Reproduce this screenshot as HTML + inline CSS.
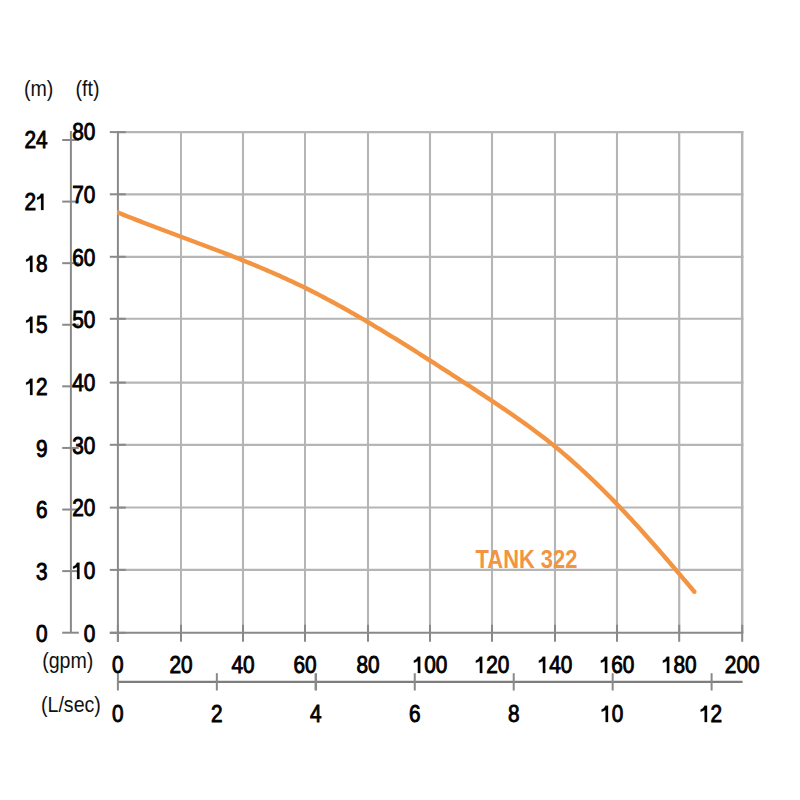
<!DOCTYPE html>
<html><head><meta charset="utf-8"><style>
html,body{margin:0;padding:0;background:#fff;width:800px;height:800px;overflow:hidden;}
svg.g{position:absolute;left:0;top:0;}
.n{position:absolute;font-family:'Liberation Sans',sans-serif;font-size:20.8px;line-height:21px;height:21px;color:#000;white-space:nowrap;-webkit-text-stroke:0.8px #000;}
.d1{display:inline-block;position:relative;width:0.556em;height:0.709em;}
.d1 svg{position:absolute;left:0;top:0;width:100%;height:100%;overflow:visible;}
.d1 path{fill:#000;stroke:#000;stroke-width:10px;}
.lab{position:absolute;font-family:'Liberation Sans',sans-serif;font-size:19.6px;line-height:1;color:#111;white-space:nowrap;transform-origin:0 0;transform:scaleY(1.08);}
.tank{position:absolute;font-family:'Liberation Sans',sans-serif;font-size:21.9px;font-weight:bold;line-height:1;color:#f39442;white-space:nowrap;transform-origin:0 0;transform:scaleY(1.167);}
</style></head><body>
<svg class="g" width="800" height="800" viewBox="0 0 800 800">
<line x1="181.00" y1="131.00" x2="181.00" y2="632.80" stroke="#b5b5b5" stroke-width="2.0"/>
<line x1="243.00" y1="131.00" x2="243.00" y2="632.80" stroke="#b5b5b5" stroke-width="2.1"/>
<line x1="305.00" y1="131.00" x2="305.00" y2="632.80" stroke="#b5b5b5" stroke-width="2.0"/>
<line x1="368.00" y1="131.00" x2="368.00" y2="632.80" stroke="#b5b5b5" stroke-width="2.1"/>
<line x1="430.00" y1="131.00" x2="430.00" y2="632.80" stroke="#b5b5b5" stroke-width="2.1"/>
<line x1="492.00" y1="131.00" x2="492.00" y2="632.80" stroke="#b5b5b5" stroke-width="2.1"/>
<line x1="555.00" y1="131.00" x2="555.00" y2="632.80" stroke="#b5b5b5" stroke-width="2.1"/>
<line x1="617.00" y1="131.00" x2="617.00" y2="632.80" stroke="#b5b5b5" stroke-width="2.1"/>
<line x1="679.20" y1="131.00" x2="679.20" y2="632.80" stroke="#b5b5b5" stroke-width="2.2"/>
<line x1="742.20" y1="131.00" x2="742.20" y2="632.80" stroke="#b5b5b5" stroke-width="2.5"/>
<line x1="117.90" y1="132.10" x2="743.40" y2="132.10" stroke="#b5b5b5" stroke-width="2.2"/>
<line x1="117.90" y1="194.30" x2="743.40" y2="194.30" stroke="#b5b5b5" stroke-width="2.2"/>
<line x1="117.90" y1="256.80" x2="743.40" y2="256.80" stroke="#b5b5b5" stroke-width="2.2"/>
<line x1="117.90" y1="318.80" x2="743.40" y2="318.80" stroke="#b5b5b5" stroke-width="2.1"/>
<line x1="117.90" y1="382.60" x2="743.40" y2="382.60" stroke="#b5b5b5" stroke-width="2.3"/>
<line x1="117.90" y1="444.80" x2="743.40" y2="444.80" stroke="#b5b5b5" stroke-width="2.2"/>
<line x1="117.90" y1="507.60" x2="743.40" y2="507.60" stroke="#b5b5b5" stroke-width="2.0"/>
<line x1="117.90" y1="569.90" x2="743.40" y2="569.90" stroke="#b5b5b5" stroke-width="2.1"/>
<line x1="109.8" y1="132.10" x2="125.8" y2="132.10" stroke="#898989" stroke-width="2.0"/>
<line x1="109.8" y1="194.30" x2="125.8" y2="194.30" stroke="#898989" stroke-width="2.0"/>
<line x1="109.8" y1="256.80" x2="125.8" y2="256.80" stroke="#898989" stroke-width="2.0"/>
<line x1="109.8" y1="318.80" x2="125.8" y2="318.80" stroke="#898989" stroke-width="2.0"/>
<line x1="109.8" y1="382.60" x2="125.8" y2="382.60" stroke="#898989" stroke-width="2.0"/>
<line x1="109.8" y1="444.80" x2="125.8" y2="444.80" stroke="#898989" stroke-width="2.0"/>
<line x1="109.8" y1="507.60" x2="125.8" y2="507.60" stroke="#898989" stroke-width="2.0"/>
<line x1="109.8" y1="569.90" x2="125.8" y2="569.90" stroke="#898989" stroke-width="2.0"/>
<line x1="109.8" y1="632.80" x2="125.8" y2="632.80" stroke="#898989" stroke-width="2.0"/>
<line x1="117.90" y1="624.8" x2="117.90" y2="641.8" stroke="#898989" stroke-width="2.0"/>
<line x1="181.00" y1="624.8" x2="181.00" y2="641.8" stroke="#898989" stroke-width="2.0"/>
<line x1="243.00" y1="624.8" x2="243.00" y2="641.8" stroke="#898989" stroke-width="2.0"/>
<line x1="305.00" y1="624.8" x2="305.00" y2="641.8" stroke="#898989" stroke-width="2.0"/>
<line x1="368.00" y1="624.8" x2="368.00" y2="641.8" stroke="#898989" stroke-width="2.0"/>
<line x1="430.00" y1="624.8" x2="430.00" y2="641.8" stroke="#898989" stroke-width="2.0"/>
<line x1="492.00" y1="624.8" x2="492.00" y2="641.8" stroke="#898989" stroke-width="2.0"/>
<line x1="555.00" y1="624.8" x2="555.00" y2="641.8" stroke="#898989" stroke-width="2.0"/>
<line x1="617.00" y1="624.8" x2="617.00" y2="641.8" stroke="#898989" stroke-width="2.0"/>
<line x1="679.20" y1="624.8" x2="679.20" y2="641.8" stroke="#898989" stroke-width="2.0"/>
<line x1="742.20" y1="624.8" x2="742.20" y2="641.8" stroke="#898989" stroke-width="2.0"/>
<line x1="117.9" y1="131.1" x2="117.9" y2="641.8" stroke="#898989" stroke-width="2.0"/>
<line x1="109.8" y1="632.80" x2="743.30" y2="632.80" stroke="#898989" stroke-width="2.0"/>
<line x1="70.9" y1="131" x2="70.9" y2="632.80" stroke="#898989" stroke-width="2.0"/>
<line x1="62.2" y1="140.00" x2="78.8" y2="140.00" stroke="#898989" stroke-width="2.0"/>
<line x1="62.2" y1="201.59" x2="78.8" y2="201.59" stroke="#898989" stroke-width="2.0"/>
<line x1="62.2" y1="263.18" x2="78.8" y2="263.18" stroke="#898989" stroke-width="2.0"/>
<line x1="62.2" y1="324.76" x2="78.8" y2="324.76" stroke="#898989" stroke-width="2.0"/>
<line x1="62.2" y1="386.35" x2="78.8" y2="386.35" stroke="#898989" stroke-width="2.0"/>
<line x1="62.2" y1="447.94" x2="78.8" y2="447.94" stroke="#898989" stroke-width="2.0"/>
<line x1="62.2" y1="509.53" x2="78.8" y2="509.53" stroke="#898989" stroke-width="2.0"/>
<line x1="62.2" y1="571.11" x2="78.8" y2="571.11" stroke="#898989" stroke-width="2.0"/>
<line x1="62.2" y1="632.70" x2="78.8" y2="632.70" stroke="#898989" stroke-width="2.0"/>
<line x1="117.9" y1="681.9" x2="742.6" y2="681.9" stroke="#7d7d7d" stroke-width="2.1"/>
<line x1="117.90" y1="673.2" x2="117.90" y2="690.5" stroke="#898989" stroke-width="2.0"/>
<line x1="216.85" y1="673.2" x2="216.85" y2="690.5" stroke="#898989" stroke-width="2.0"/>
<line x1="315.80" y1="673.2" x2="315.80" y2="690.5" stroke="#898989" stroke-width="2.5"/>
<line x1="414.75" y1="673.2" x2="414.75" y2="690.5" stroke="#898989" stroke-width="2.0"/>
<line x1="513.71" y1="673.2" x2="513.71" y2="690.5" stroke="#898989" stroke-width="2.0"/>
<line x1="612.66" y1="673.2" x2="612.66" y2="690.5" stroke="#898989" stroke-width="2.0"/>
<line x1="711.61" y1="673.2" x2="711.61" y2="690.5" stroke="#898989" stroke-width="2.0"/>
<clipPath id="cp"><rect x="117" y="0" width="700" height="800"/></clipPath>
<path d="M115.0,211.35 L117.0,212.17 L119.0,212.98 L121.0,213.79 L123.0,214.59 L125.0,215.39 L127.0,216.19 L129.0,216.98 L131.0,217.77 L133.0,218.56 L135.0,219.34 L137.0,220.12 L139.0,220.90 L141.0,221.67 L143.0,222.44 L145.0,223.21 L147.0,223.98 L149.0,224.74 L151.0,225.50 L153.0,226.26 L155.0,227.02 L157.0,227.77 L159.0,228.53 L161.0,229.28 L163.0,230.03 L165.0,230.78 L167.0,231.53 L169.0,232.28 L171.0,233.03 L173.0,233.77 L175.0,234.52 L177.0,235.26 L179.0,236.01 L181.0,236.75 L183.0,237.50 L185.0,238.24 L187.0,238.99 L189.0,239.73 L191.0,240.48 L193.0,241.22 L195.0,241.97 L197.0,242.72 L199.0,243.46 L201.0,244.21 L203.0,244.96 L205.0,245.72 L207.0,246.47 L209.0,247.22 L211.0,247.98 L213.0,248.74 L215.0,249.50 L217.0,250.26 L219.0,251.02 L221.0,251.79 L223.0,252.56 L225.0,253.33 L227.0,254.11 L229.0,254.88 L231.0,255.66 L233.0,256.45 L235.0,257.23 L237.0,258.02 L239.0,258.82 L241.0,259.61 L243.0,260.41 L245.0,261.22 L247.0,262.03 L249.0,262.84 L251.0,263.66 L253.0,264.48 L255.0,265.30 L257.0,266.14 L259.0,266.97 L261.0,267.81 L263.0,268.66 L265.0,269.51 L267.0,270.36 L269.0,271.22 L271.0,272.09 L273.0,272.96 L275.0,273.84 L277.0,274.72 L279.0,275.61 L281.0,276.51 L283.0,277.41 L285.0,278.32 L287.0,279.24 L289.0,280.16 L291.0,281.09 L293.0,282.02 L295.0,282.97 L297.0,283.92 L299.0,284.87 L301.0,285.84 L303.0,286.81 L305.0,287.79 L307.0,288.78 L309.0,289.78 L311.0,290.78 L313.0,291.79 L315.0,292.81 L317.0,293.83 L319.0,294.87 L321.0,295.91 L323.0,296.96 L325.0,298.01 L327.0,299.07 L329.0,300.14 L331.0,301.21 L333.0,302.29 L335.0,303.38 L337.0,304.47 L339.0,305.57 L341.0,306.68 L343.0,307.79 L345.0,308.91 L347.0,310.03 L349.0,311.16 L351.0,312.30 L353.0,313.44 L355.0,314.59 L357.0,315.74 L359.0,316.89 L361.0,318.05 L363.0,319.22 L365.0,320.39 L367.0,321.57 L369.0,322.75 L371.0,323.94 L373.0,325.13 L375.0,326.32 L377.0,327.52 L379.0,328.72 L381.0,329.93 L383.0,331.14 L385.0,332.36 L387.0,333.57 L389.0,334.80 L391.0,336.02 L393.0,337.25 L395.0,338.49 L397.0,339.72 L399.0,340.96 L401.0,342.20 L403.0,343.45 L405.0,344.70 L407.0,345.95 L409.0,347.20 L411.0,348.46 L413.0,349.72 L415.0,350.98 L417.0,352.24 L419.0,353.51 L421.0,354.77 L423.0,356.04 L425.0,357.32 L427.0,358.59 L429.0,359.86 L431.0,361.14 L433.0,362.42 L435.0,363.70 L437.0,364.98 L439.0,366.26 L441.0,367.55 L443.0,368.83 L445.0,370.12 L447.0,371.41 L449.0,372.70 L451.0,373.99 L453.0,375.29 L455.0,376.58 L457.0,377.88 L459.0,379.18 L461.0,380.48 L463.0,381.79 L465.0,383.09 L467.0,384.40 L469.0,385.71 L471.0,387.02 L473.0,388.34 L475.0,389.65 L477.0,390.97 L479.0,392.29 L481.0,393.61 L483.0,394.94 L485.0,396.26 L487.0,397.59 L489.0,398.92 L491.0,400.26 L493.0,401.59 L495.0,402.93 L497.0,404.27 L499.0,405.62 L501.0,406.97 L503.0,408.32 L505.0,409.68 L507.0,411.04 L509.0,412.41 L511.0,413.78 L513.0,415.16 L515.0,416.55 L517.0,417.95 L519.0,419.35 L521.0,420.76 L523.0,422.18 L525.0,423.61 L527.0,425.05 L529.0,426.50 L531.0,427.96 L533.0,429.43 L535.0,430.92 L537.0,432.41 L539.0,433.92 L541.0,435.44 L543.0,436.97 L545.0,438.52 L547.0,440.08 L549.0,441.65 L551.0,443.24 L553.0,444.85 L555.0,446.47 L557.0,448.11 L559.0,449.76 L561.0,451.43 L563.0,453.12 L565.0,454.82 L567.0,456.54 L569.0,458.27 L571.0,460.02 L573.0,461.79 L575.0,463.57 L577.0,465.36 L579.0,467.17 L581.0,469.00 L583.0,470.84 L585.0,472.69 L587.0,474.56 L589.0,476.44 L591.0,478.34 L593.0,480.25 L595.0,482.17 L597.0,484.11 L599.0,486.06 L601.0,488.03 L603.0,490.01 L605.0,492.00 L607.0,494.00 L609.0,496.02 L611.0,498.05 L613.0,500.10 L615.0,502.15 L617.0,504.22 L619.0,506.30 L621.0,508.40 L623.0,510.50 L625.0,512.62 L627.0,514.75 L629.0,516.89 L631.0,519.05 L633.0,521.21 L635.0,523.39 L637.0,525.57 L639.0,527.77 L641.0,529.98 L643.0,532.20 L645.0,534.43 L647.0,536.67 L649.0,538.92 L651.0,541.18 L653.0,543.44 L655.0,545.72 L657.0,548.00 L659.0,550.30 L661.0,552.60 L663.0,554.90 L665.0,557.22 L667.0,559.54 L669.0,561.87 L671.0,564.20 L673.0,566.54 L675.0,568.88 L677.0,571.23 L679.0,573.58 L681.0,575.94 L683.0,578.30 L685.0,580.66 L687.0,583.02 L689.0,585.39 L691.0,587.76 L693.0,590.14 L694.4,591.80" fill="none" stroke="#f39442" stroke-width="4.4" stroke-linecap="butt" stroke-linejoin="round" clip-path="url(#cp)"/>
<circle cx="694.40" cy="591.80" r="2.2" fill="#f39442"/>
</svg>
<div class="n" style="left:47.60px;top:140.40px;transform:translate(-100%,-50%) scaleY(1.115);">24</div><div class="n" style="left:47.60px;top:202.05px;transform:translate(-100%,-50%) scaleY(1.115);">2<span class="d1"><svg viewBox="0 0 556 709" preserveAspectRatio="none"><path d="M250 0 L367 0 L367 709 L250 709 L250 185 C190 222 125 250 58 262 L58 165 C140 140 210 85 245 0 Z"/></svg></span></div><div class="n" style="left:47.60px;top:263.70px;transform:translate(-100%,-50%) scaleY(1.115);"><span class="d1"><svg viewBox="0 0 556 709" preserveAspectRatio="none"><path d="M250 0 L367 0 L367 709 L250 709 L250 185 C190 222 125 250 58 262 L58 165 C140 140 210 85 245 0 Z"/></svg></span>8</div><div class="n" style="left:47.60px;top:325.35px;transform:translate(-100%,-50%) scaleY(1.115);"><span class="d1"><svg viewBox="0 0 556 709" preserveAspectRatio="none"><path d="M250 0 L367 0 L367 709 L250 709 L250 185 C190 222 125 250 58 262 L58 165 C140 140 210 85 245 0 Z"/></svg></span>5</div><div class="n" style="left:47.60px;top:387.00px;transform:translate(-100%,-50%) scaleY(1.115);"><span class="d1"><svg viewBox="0 0 556 709" preserveAspectRatio="none"><path d="M250 0 L367 0 L367 709 L250 709 L250 185 C190 222 125 250 58 262 L58 165 C140 140 210 85 245 0 Z"/></svg></span>2</div><div class="n" style="left:47.60px;top:448.65px;transform:translate(-100%,-50%) scaleY(1.115);">9</div><div class="n" style="left:47.60px;top:510.30px;transform:translate(-100%,-50%) scaleY(1.115);">6</div><div class="n" style="left:47.60px;top:571.95px;transform:translate(-100%,-50%) scaleY(1.115);">3</div><div class="n" style="left:47.60px;top:633.60px;transform:translate(-100%,-50%) scaleY(1.115);">0</div><div class="n" style="left:95.40px;top:132.20px;transform:translate(-100%,-50%) scaleY(1.115);">80</div><div class="n" style="left:95.40px;top:194.90px;transform:translate(-100%,-50%) scaleY(1.115);">70</div><div class="n" style="left:95.40px;top:257.60px;transform:translate(-100%,-50%) scaleY(1.115);">60</div><div class="n" style="left:95.40px;top:320.30px;transform:translate(-100%,-50%) scaleY(1.115);">50</div><div class="n" style="left:95.40px;top:383.00px;transform:translate(-100%,-50%) scaleY(1.115);">40</div><div class="n" style="left:95.40px;top:445.70px;transform:translate(-100%,-50%) scaleY(1.115);">30</div><div class="n" style="left:95.40px;top:508.40px;transform:translate(-100%,-50%) scaleY(1.115);">20</div><div class="n" style="left:95.40px;top:571.10px;transform:translate(-100%,-50%) scaleY(1.115);"><span class="d1"><svg viewBox="0 0 556 709" preserveAspectRatio="none"><path d="M250 0 L367 0 L367 709 L250 709 L250 185 C190 222 125 250 58 262 L58 165 C140 140 210 85 245 0 Z"/></svg></span>0</div><div class="n" style="left:95.40px;top:633.80px;transform:translate(-100%,-50%) scaleY(1.115);">0</div><div class="n" style="left:117.90px;top:664.60px;transform:translate(-50%,-50%) scaleY(1.115);">0</div><div class="n" style="left:181.00px;top:664.60px;transform:translate(-50%,-50%) scaleY(1.115);">20</div><div class="n" style="left:243.00px;top:664.60px;transform:translate(-50%,-50%) scaleY(1.115);">40</div><div class="n" style="left:305.00px;top:664.60px;transform:translate(-50%,-50%) scaleY(1.115);">60</div><div class="n" style="left:368.00px;top:664.60px;transform:translate(-50%,-50%) scaleY(1.115);">80</div><div class="n" style="left:430.00px;top:664.60px;transform:translate(-50%,-50%) scaleY(1.115);"><span class="d1"><svg viewBox="0 0 556 709" preserveAspectRatio="none"><path d="M250 0 L367 0 L367 709 L250 709 L250 185 C190 222 125 250 58 262 L58 165 C140 140 210 85 245 0 Z"/></svg></span>00</div><div class="n" style="left:492.00px;top:664.60px;transform:translate(-50%,-50%) scaleY(1.115);"><span class="d1"><svg viewBox="0 0 556 709" preserveAspectRatio="none"><path d="M250 0 L367 0 L367 709 L250 709 L250 185 C190 222 125 250 58 262 L58 165 C140 140 210 85 245 0 Z"/></svg></span>20</div><div class="n" style="left:555.00px;top:664.60px;transform:translate(-50%,-50%) scaleY(1.115);"><span class="d1"><svg viewBox="0 0 556 709" preserveAspectRatio="none"><path d="M250 0 L367 0 L367 709 L250 709 L250 185 C190 222 125 250 58 262 L58 165 C140 140 210 85 245 0 Z"/></svg></span>40</div><div class="n" style="left:617.00px;top:664.60px;transform:translate(-50%,-50%) scaleY(1.115);"><span class="d1"><svg viewBox="0 0 556 709" preserveAspectRatio="none"><path d="M250 0 L367 0 L367 709 L250 709 L250 185 C190 222 125 250 58 262 L58 165 C140 140 210 85 245 0 Z"/></svg></span>60</div><div class="n" style="left:679.20px;top:664.60px;transform:translate(-50%,-50%) scaleY(1.115);"><span class="d1"><svg viewBox="0 0 556 709" preserveAspectRatio="none"><path d="M250 0 L367 0 L367 709 L250 709 L250 185 C190 222 125 250 58 262 L58 165 C140 140 210 85 245 0 Z"/></svg></span>80</div><div class="n" style="left:742.20px;top:664.60px;transform:translate(-50%,-50%) scaleY(1.115);">200</div><div class="n" style="left:117.90px;top:713.60px;transform:translate(-50%,-50%) scaleY(1.115);">0</div><div class="n" style="left:216.85px;top:713.60px;transform:translate(-50%,-50%) scaleY(1.115);">2</div><div class="n" style="left:315.80px;top:713.60px;transform:translate(-50%,-50%) scaleY(1.115);">4</div><div class="n" style="left:414.75px;top:713.60px;transform:translate(-50%,-50%) scaleY(1.115);">6</div><div class="n" style="left:513.71px;top:713.60px;transform:translate(-50%,-50%) scaleY(1.115);">8</div><div class="n" style="left:611.66px;top:713.60px;transform:translate(-50%,-50%) scaleY(1.115);"><span class="d1"><svg viewBox="0 0 556 709" preserveAspectRatio="none"><path d="M250 0 L367 0 L367 709 L250 709 L250 185 C190 222 125 250 58 262 L58 165 C140 140 210 85 245 0 Z"/></svg></span>0</div><div class="n" style="left:710.61px;top:713.60px;transform:translate(-50%,-50%) scaleY(1.115);"><span class="d1"><svg viewBox="0 0 556 709" preserveAspectRatio="none"><path d="M250 0 L367 0 L367 709 L250 709 L250 185 C190 222 125 250 58 262 L58 165 C140 140 210 85 245 0 Z"/></svg></span>2</div>
<div class="lab" style="left:24px;top:79px;">(m)</div>
<div class="lab" style="left:75.6px;top:79px;">(ft)</div>
<div class="lab" style="left:42.2px;top:651px;">(gpm)</div>
<div class="lab" style="left:41px;top:695px;">(L/sec)</div>
<div class="tank" style="left:475.6px;top:547.2px;">TANK 322</div>
</body></html>
